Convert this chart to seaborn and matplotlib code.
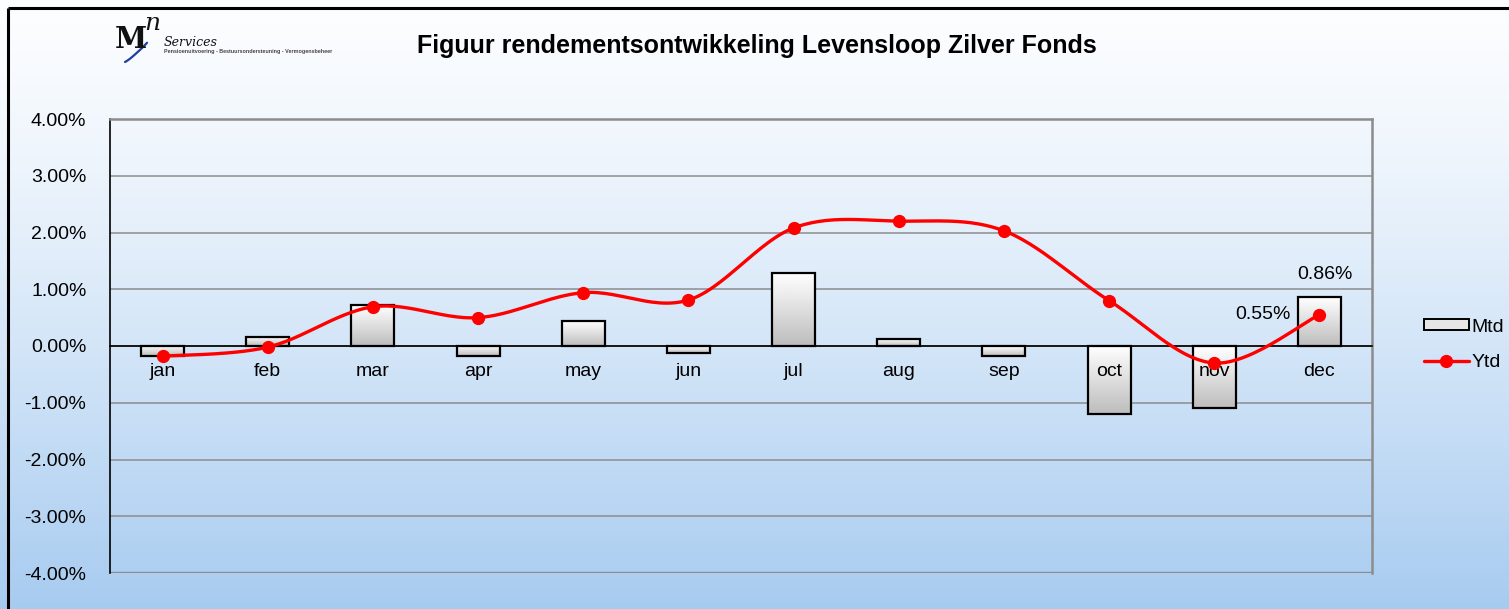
import numpy as np
import pandas as pd
import matplotlib
matplotlib.use("Agg")
import matplotlib.pyplot as plt
import seaborn as sns
from matplotlib.lines import Line2D
from matplotlib.patches import Patch

# data (percent)
months = ["jan", "feb", "mar", "apr", "may", "jun", "jul", "aug", "sep", "oct", "nov", "dec"]
mtd = [-0.18, 0.16, 0.72, -0.18, 0.44, -0.12, 1.28, 0.12, -0.17, -1.20, -1.09, 0.86]
ytd = [-0.18, -0.02, 0.69, 0.50, 0.94, 0.81, 2.08, 2.20, 2.03, 0.80, -0.30, 0.55]
yticks = [-4, -3, -2, -1, 0, 1, 2, 3, 4]

TITLE = "Figuur rendementsontwikkeling Levensloop Zilver Fonds"
GRID = "#8c8c8c"
RED = "#ff0000"
FS = 14


def smooth_line(xs, ys, n=30):
    # Catmull-Rom spline through the points, like a smoothed Excel line
    xs = np.asarray(xs, float)
    ys = np.asarray(ys, float)
    px = np.concatenate([[xs[0]], xs, [xs[-1]]])
    py = np.concatenate([[ys[0]], ys, [ys[-1]]])
    outx, outy = [], []
    t = np.linspace(0, 1, n)
    for i in range(1, len(px) - 2):
        for p, out in ((px, outx), (py, outy)):
            p0, p1, p2, p3 = p[i - 1], p[i], p[i + 1], p[i + 2]
            out.extend(0.5 * (2 * p1 + (-p0 + p2) * t
                              + (2 * p0 - 5 * p1 + 4 * p2 - p3) * t ** 2
                              + (-p0 + 3 * p1 - 3 * p2 + p3) * t ** 3))
    return np.array(outx), np.array(outy)


sns.set_theme(style="white", rc={"text.color": "black", "xtick.color": "black",
                                 "ytick.color": "black", "axes.labelcolor": "black"})
plt.rcParams["font.family"] = ["Liberation Sans", "DejaVu Sans"]

W, H = 1509, 609
fig = plt.figure(figsize=(W / 100, H / 100), dpi=100)

# background gradient white -> light blue
bg = fig.add_axes([0, 0, 1, 1], zorder=-10)
grad = np.linspace(0, 1, 256)[:, None]
top = np.array([0.99, 0.995, 1.0])
bot = np.array([0.655, 0.796, 0.941])
img = top[None, None, :] * (1 - grad[..., None] ** 1.3) + bot[None, None, :] * grad[..., None] ** 1.3
bg.imshow(img, aspect="auto", extent=[0, 1, 0, 1])
bg.set_xlim(0, 1)
bg.set_ylim(0, 1)
bg.axis("off")
# black frame at left/top
bg.plot([7.5 / W, 7.5 / W], [0, 1 - 7.5 / H], color="black", lw=2.2, solid_capstyle="butt")
bg.plot([7.5 / W, 1], [1 - 7.5 / H, 1 - 7.5 / H], color="black", lw=2.2, solid_capstyle="butt")

x0, x1, y0, y1 = 110, 1372, 119, 573
ax = fig.add_axes([x0 / W, 1 - y1 / H, (x1 - x0) / W, (y1 - y0) / H])
ax.set_facecolor("none")

df = pd.DataFrame({"month": months, "Mtd": mtd, "Ytd": ytd})
sns.barplot(data=df, x="month", y="Mtd", color="white", edgecolor="black",
            linewidth=1.6, width=0.41, saturation=1, ax=ax, zorder=3)

# gradient fill inside each bar
bar_grad = np.linspace(1.0, 0.74, 100)[:, None] * np.ones((1, 2))
for p in ax.patches:
    bx, by = p.get_x(), p.get_y()
    bw, bh = p.get_width(), p.get_height()
    lo, hi = min(by, by + bh), max(by, by + bh)
    im = ax.imshow(bar_grad, cmap="gray", vmin=0, vmax=1, aspect="auto",
                   extent=[bx, bx + bw, lo, hi], zorder=3.5)
    im.set_clip_path(p)
    p.set_facecolor("none")
    p.set_zorder(4)

sx, sy = smooth_line(range(len(months)), ytd)
ax.plot(sx, sy, color=RED, lw=2.4, zorder=5, solid_capstyle="round")
ax.plot(range(len(months)), ytd, "o", color=RED, ms=8.5, zorder=6)

ax.set_xlim(-0.5, len(months) - 0.5)
ax.set_ylim(-4, 4)
ax.set_yticks(yticks)
ax.set_yticklabels([f"{v:.2f}%" for v in yticks], fontsize=FS, color="black")
ax.yaxis.grid(True, color=GRID, lw=1.1)
ax.set_axisbelow(True)
ax.set_xlabel("")
ax.set_ylabel("")

# x axis sits on the zero line
ax.spines["bottom"].set_position(("data", 0))
ax.spines["bottom"].set_color("black")
ax.spines["bottom"].set_linewidth(1.2)
ax.spines["bottom"].set_zorder(4.5)
ax.spines["left"].set_color("black")
ax.spines["left"].set_linewidth(1.2)
for s in ("top", "right"):
    ax.spines[s].set_color(GRID)
    ax.spines[s].set_linewidth(1.8)
ax.axhline(-4, color=GRID, lw=2.4, zorder=2)

# month labels drawn above the bars but under the line, ticks at boundaries
ax.set_xticks(range(len(months)))
ax.set_xticklabels([])
ax.set_xticks(np.arange(-0.5, len(months), 1), minor=True)
ax.tick_params(axis="x", which="major", length=0)
ax.tick_params(axis="x", which="minor", length=6, width=1, color=GRID, direction="out")
ax.tick_params(axis="y", length=6, width=1, color="black", direction="out", pad=11)
for i, m in enumerate(months):
    ax.annotate(m, (i, 0), xytext=(0, -12), textcoords="offset points",
                ha="center", va="top", fontsize=FS, color="black", zorder=4.8)

# data labels for december
ax.annotate(f"{mtd[-1]:.2f}%", (11, mtd[-1]), xytext=(4, 10), textcoords="offset points",
            ha="center", va="bottom", fontsize=FS, color="black")
ax.annotate(f"{ytd[-1]:.2f}%", (11, ytd[-1]), xytext=(-21, 0), textcoords="offset points",
            ha="right", va="center", fontsize=FS, color="black")

# legend
handles = [Patch(facecolor="#e6e6e6", edgecolor="black", linewidth=1.4, label="Mtd"),
           Line2D([0], [0], color=RED, lw=2.4, marker="o", ms=8.5, label="Ytd")]
leg = fig.legend(handles=handles, loc="center left", bbox_to_anchor=(1424 / W, 1 - 345 / H),
                 frameon=False, fontsize=FS, handlelength=2.3, handleheight=0.5,
                 handletextpad=0.15, labelspacing=0.95, borderaxespad=0, borderpad=0)
for t in leg.get_texts():
    t.set_color("black")

# title
fig.text(757 / W, 1 - 46 / H, TITLE, ha="center", va="center", fontsize=18,
         fontweight="bold", color="black")

# logo
fig.text(115 / W, 1 - 40 / H, "M", fontsize=21, fontweight="bold", family="DejaVu Serif",
         ha="left", va="center", color="#111111")
fig.text(144 / W, 1 - 24 / H, "n", fontsize=18, style="italic", family="DejaVu Serif",
         ha="left", va="center", color="#111111")
fig.text(164 / W, 1 - 42 / H, "Services", fontsize=9, style="italic", family="DejaVu Serif",
         ha="left", va="center", color="#111111")
fig.text(164 / W, 1 - 52 / H, "Pensioenuitvoering - Bestuursondersteuning - Vermogensbeheer",
         fontsize=3.9, fontweight="bold", ha="left", va="center", color="#444444")
tt = np.linspace(0, 1, 30)
bg.plot((125 + 22 * tt) / W, 1 - (62 - 4 * np.sin(np.pi * tt * 0.9) - 18 * tt ** 2) / H,
        color="#1f3f9f", lw=1.6)

fig.savefig("out.png", dpi=100)
